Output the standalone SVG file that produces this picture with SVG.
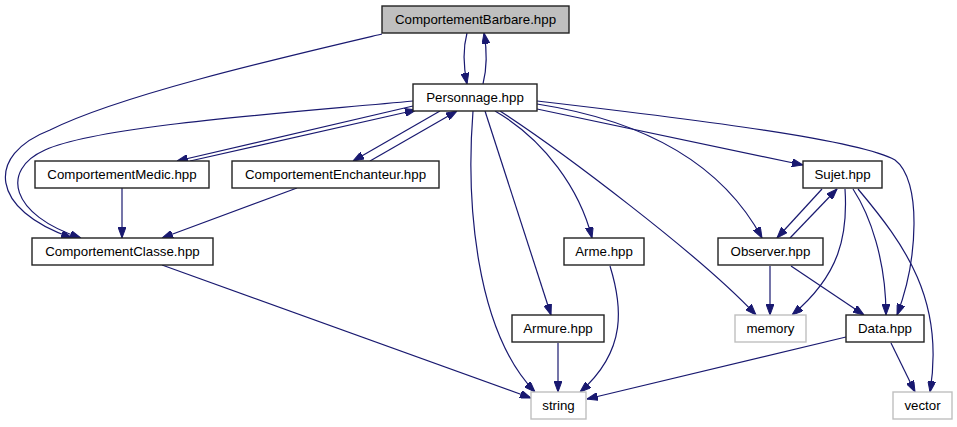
<svg xmlns="http://www.w3.org/2000/svg" width="957" height="427" viewBox="0 0 957 427">
<style>
.n rect{fill:#ffffff;stroke:#222222;stroke-width:1.4}
.n.g rect{stroke:#bfbfbf}
.n.cur rect{fill:#bfbfbf}
.n text{font-family:"Liberation Sans",Arial,sans-serif;font-size:13.3px;fill:#000000;text-anchor:middle}
.e path{fill:none;stroke:#191970;stroke-width:1.2;marker-end:url(#ah)}
</style>
<defs>
<marker id="ah" viewBox="0 0 11 8" refX="11" refY="4" markerWidth="11" markerHeight="8" markerUnits="userSpaceOnUse" orient="auto">
<path d="M0,0 L11,4 L0,8 z" fill="#191970" stroke="#191970" stroke-width="1"/>
</marker>
</defs>
<rect x="0" y="0" width="957" height="427" fill="#ffffff"/>
<g id="connectors" class="e">
<path d="M467,33 C463,48 463,64 467,84"/>
<path d="M483,84 C487,68 487,50 484,33"/>
<path d="M382,34 C280,58 120,95 50,130 C-15,155 -10,210 72,238"/>
<path d="M413,101 C300,112 100,125 45,150 C0,170 10,215 81,238"/>
<path d="M413,106 L177,161"/>
<path d="M190,161 L416,110"/>
<path d="M440,111 L353,161"/>
<path d="M370,161 L457,111"/>
<path d="M122,188 L122,238"/>
<path d="M297,188 L162,238"/>
<path d="M162,265 L531,398"/>
<path d="M473,111 C466,200 475,330 535,392"/>
<path d="M485,111 L551,315"/>
<path d="M495,111 C545,140 580,190 592,238"/>
<path d="M610,266 C622,305 628,350 580,392"/>
<path d="M500,111 C560,150 700,255 756,315"/>
<path d="M537,104 C640,120 720,160 762,238"/>
<path d="M537,109 L803,165"/>
<path d="M537,101 C700,120 860,140 895,160 C922,180 918,260 897,315"/>
<path d="M822,189 L777,238"/>
<path d="M790,238 L837,189"/>
<path d="M845,189 C848,235 840,275 792,315"/>
<path d="M853,189 C870,215 886,260 886,315"/>
<path d="M858,189 C905,245 945,300 930,392"/>
<path d="M770,266 L770,315"/>
<path d="M791,266 L864,315"/>
<path d="M846,337 L587,399"/>
<path d="M891,343 L915,392"/>
<path d="M558,343 L558,392"/>
</g>
<g id="ComportementBarbare" class="n cur"><rect x="382" y="6" width="187" height="27"/><text x="475.5" y="24">ComportementBarbare.hpp</text></g>
<g id="Personnage" class="n"><rect x="413" y="84" width="124" height="27"/><text x="475" y="102">Personnage.hpp</text></g>
<g id="ComportementMedic" class="n"><rect x="35" y="161" width="174" height="27"/><text x="122" y="179">ComportementMedic.hpp</text></g>
<g id="ComportementEnchanteur" class="n"><rect x="232" y="161" width="207" height="27"/><text x="335.5" y="179">ComportementEnchanteur.hpp</text></g>
<g id="ComportementClasse" class="n"><rect x="32" y="238" width="181" height="27"/><text x="122.5" y="256">ComportementClasse.hpp</text></g>
<g id="Sujet" class="n"><rect x="803" y="161" width="79" height="27"/><text x="842.5" y="179">Sujet.hpp</text></g>
<g id="Arme" class="n"><rect x="564" y="238" width="80" height="27"/><text x="604" y="256">Arme.hpp</text></g>
<g id="Observer" class="n"><rect x="718" y="238" width="105" height="27"/><text x="770.5" y="256">Observer.hpp</text></g>
<g id="Armure" class="n"><rect x="512" y="315" width="92" height="27"/><text x="558" y="333">Armure.hpp</text></g>
<g id="memory" class="n g"><rect x="735" y="315" width="71" height="27"/><text x="770.5" y="333">memory</text></g>
<g id="Data" class="n"><rect x="846" y="315" width="78" height="27"/><text x="885" y="333">Data.hpp</text></g>
<g id="string" class="n g"><rect x="531" y="392" width="55" height="27"/><text x="558.5" y="410">string</text></g>
<g id="vector" class="n g"><rect x="893" y="392" width="59" height="27"/><text x="922.5" y="410">vector</text></g>
</svg>
